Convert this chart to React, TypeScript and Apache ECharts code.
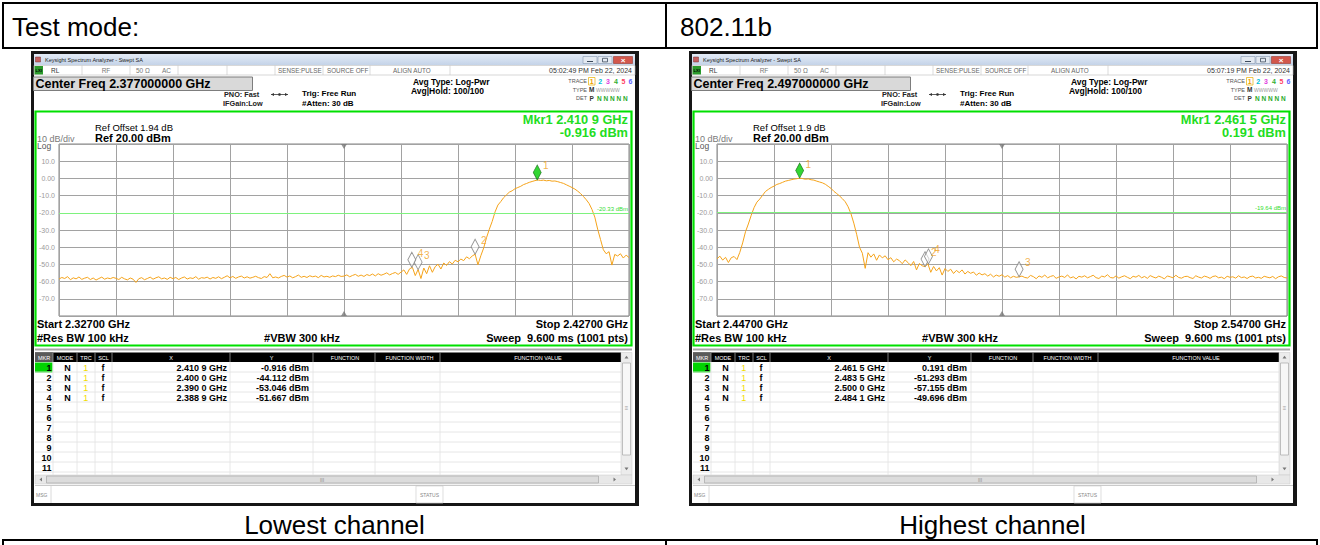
import React, { useEffect, useRef } from "react";
import * as echarts from "echarts";

const FONT = '"Liberation Sans", Arial, sans-serif';

// ---------------- data ----------------
const pageHeaderLabels = ["Test mode:", "802.11b"];
const panelCaptions = ["Lowest channel", "Highest channel"];

const yTickValues = [10, 0, -10, -20, -30, -40, -50, -60, -70];
const yTickLabels = ["10.0", "0.00", "-10.0", "-20.0", "-30.0", "-40.0", "-50.0", "-60.0", "-70.0"];
const refLevelDbm = 20;
const bottomLevelDbm = -80;
const dbPerDiv = 10;
const spanMHz = 100;
const traceStepMHz = 0.5;

const tableHeaders = ["MKR", "MODE", "TRC", "SCL", "X", "Y", "FUNCTION", "FUNCTION WIDTH", "FUNCTION VALUE"];
const tableRowCount = 11;

// Lowest channel
const lowStartGHz = 2.327;
const lowCenterGHz = 2.377;
const lowRefOffset = "1.94";
const lowDisplayLine = -20.33;
const lowTimestamp = "05:02:49 PM Feb 22, 2024";
const lowTrace = [
  -58.5, -57.6, -58.2, -57.1, -58.9, -57.8, -58.4, -57.3, -58.7, -58.0,
  -57.5, -58.8, -57.9, -59.1, -58.2, -57.4, -58.6, -57.9, -58.3, -57.6,
  -58.1, -58.8, -57.5, -58.4, -59.0, -57.9, -58.6, -60.5, -58.3, -57.7,
  -58.9, -58.2, -57.4, -58.6, -57.8, -57.2, -58.4, -57.9, -58.7, -57.5,
  -58.3, -57.6, -58.8, -57.9, -57.3, -58.5, -57.8, -58.2, -57.1, -58.6,
  -57.7, -58.0, -57.4, -58.5, -57.6, -58.1, -57.2, -58.3, -57.5, -56.6,
  -57.8, -57.0, -58.1, -57.3, -56.8, -57.9, -57.2, -58.0, -57.5, -56.9,
  -57.7, -58.2, -57.1, -57.6, -55.4, -57.8, -57.3, -57.9, -57.0, -56.4,
  -57.4, -56.7, -57.8, -57.1, -56.2, -57.5, -56.9, -57.6, -56.6, -57.2,
  -56.8, -57.7, -56.4, -57.3, -56.9, -57.5, -56.7, -57.1, -56.3, -57.0,
  -56.8, -56.1, -57.2, -56.4, -55.8, -56.9, -56.2, -57.0, -55.9, -56.5,
  -55.6, -56.7, -55.4, -56.3, -55.7, -54.9, -56.1, -55.3, -54.7, -55.8,
  -54.5, -53.2, -55.8, -52.6, -51.7, -56.5, -53.0, -58.2, -52.1, -55.4,
  -50.8, -54.6, -51.3, -49.9, -52.7, -49.2, -50.6, -48.4, -49.8, -47.6,
  -48.5, -46.9, -47.8, -45.6, -46.7, -45.1, -44.1, -50.2, -45.0, -40.5,
  -34.5, -29.5, -25.0, -19.5, -15.5, -13.5, -11.2, -9.6, -8.0, -7.2,
  -6.0, -5.3, -4.6, -3.6, -3.0, -2.3, -1.8, -1.3, -0.9, -1.2,
  -1.0, -1.4, -1.2, -1.6, -1.5, -1.9, -2.4, -2.9, -3.7, -4.5,
  -5.3, -6.2, -7.4, -8.8, -10.5, -12.4, -14.6, -18.0, -22.5, -29.5,
  -35.5, -41.5, -43.8, -42.6, -50.4, -44.2, -45.1, -43.8, -46.3, -44.6,
  -46.0,
];
const lowMarkerFreqGHz = [2.4109, 2.4, 2.39, 2.3889];
const lowMarkerDbm = [-0.916, -44.112, -53.046, -51.667];

// Highest channel
const highStartGHz = 2.447;
const highCenterGHz = 2.497;
const highRefOffset = "1.9";
const highDisplayLine = -19.64;
const highTimestamp = "05:07:19 PM Feb 22, 2024";
const highTrace = [
  -46.8, -45.2, -47.5, -45.9, -48.9, -46.1, -45.4, -47.2, -43.0, -37.5,
  -31.0, -26.5, -21.5, -17.0, -13.8, -12.0, -9.8, -7.6, -6.4, -5.3,
  -4.5, -3.5, -3.0, -2.3, -1.6, -1.2, -0.8, -0.4, -0.2, 0.19,
  -0.1, -0.5, -0.3, -0.8, -1.0, -1.6, -2.1, -2.6, -3.4, -4.6,
  -5.8, -7.5, -8.8, -10.2, -11.8, -13.6, -16.5, -20.5, -26.0, -32.5,
  -40.0, -43.5, -52.3, -43.2, -45.8, -43.9, -47.6, -44.5, -46.2, -45.0,
  -47.3, -46.1, -48.5, -46.9, -47.8, -49.6, -47.4, -48.9, -50.7, -48.3,
  -53.2, -49.5, -50.8, -51.3, -49.7, -54.6, -51.2, -53.8, -51.9, -56.2,
  -52.4, -54.1, -52.8, -55.3, -53.5, -54.8, -53.2, -55.6, -54.1, -55.2,
  -54.4, -56.3, -55.0, -56.1, -55.4, -56.8, -55.7, -57.3, -56.2, -56.9,
  -56.0, -57.4, -56.5, -57.8, -56.9, -57.5, -57.2, -56.8, -57.6, -57.9,
  -56.4, -57.1, -58.3, -56.7, -57.5, -56.2, -57.8, -57.0, -56.5, -58.1,
  -57.3, -56.8, -57.6, -56.1, -57.9, -57.2, -58.4, -56.9, -57.4, -56.6,
  -57.8, -57.1, -56.3, -57.7, -58.2, -56.8, -57.3, -56.0, -57.6, -57.9,
  -56.7, -58.0, -57.2, -56.6, -57.5, -58.3, -56.9, -57.4, -56.4, -57.8,
  -57.0, -58.1, -56.5, -57.3, -57.9, -56.8, -57.5, -58.4, -56.7, -57.2,
  -57.8, -56.3, -57.6, -58.0, -57.1, -56.9, -57.7, -58.2, -56.6, -57.4,
  -57.9, -56.8, -57.3, -58.1, -57.0, -56.7, -57.8, -57.4, -58.3, -56.9,
  -57.5, -57.2, -58.0, -56.6, -57.7, -57.3, -58.2, -57.1, -56.8, -57.9,
  -57.5, -58.1, -56.9, -57.4, -57.8, -57.0, -58.3, -57.2, -56.7, -57.6,
  -57.9,
];
const highMarkerFreqGHz = [2.4615, 2.4835, 2.5, 2.4841];
const highMarkerDbm = [0.191, -51.293, -57.155, -49.696];

const traceColors = ["#f0a000", "#00c0d8", "#e040e0", "#30b030", "#ff4060", "#6060ff"];

// ---------------- helpers ----------------
type Any = any;
const txt = (x: number, y: number, text: string, size: number, o: Any = {}) => ({
  type: "text", x, y, z: o.z ?? 20, silent: true,
  style: {
    text, fill: o.color ?? "#000",
    font: `${o.bold ? "bold " : ""}${size}px ${FONT}`,
    textAlign: o.align ?? "left", textVerticalAlign: "middle",
  },
});
const rect = (x: number, y: number, w: number, h: number, fill: Any, stroke?: string, lw?: number, z?: number) => ({
  type: "rect", z: z ?? -8, silent: true,
  shape: { x, y, width: w, height: h },
  style: { fill, stroke: stroke ?? "none", lineWidth: lw ?? 0 },
});
const line = (x1: number, y1: number, x2: number, y2: number, stroke: string, lw: number, z?: number) => ({
  type: "line", z: z ?? -7, silent: true, shape: { x1, y1, x2, y2 }, style: { stroke, lineWidth: lw },
});
const poly = (points: number[][], fill: string, z?: number) => ({
  type: "polygon", z: z ?? 20, silent: true, shape: { points }, style: { fill },
});

const fmtFreq = (f: number) => {
  const s = f.toFixed(4);
  return `${s.slice(0, 5)} ${s.slice(5)} GHz`;
};
const fmtDbm = (v: number) => `${v.toFixed(3)} dBm`;

type Panel = {
  dx: number; startGHz: number; centerGHz: number; refOffset: string; displayLine: number;
  timestamp: string; trace: number[]; mFreq: number[]; mDbm: number[];
};

const panels: Panel[] = [
  { dx: 0, startGHz: lowStartGHz, centerGHz: lowCenterGHz, refOffset: lowRefOffset, displayLine: lowDisplayLine,
    timestamp: lowTimestamp, trace: lowTrace, mFreq: lowMarkerFreqGHz, mDbm: lowMarkerDbm },
  { dx: 658, startGHz: highStartGHz, centerGHz: highCenterGHz, refOffset: highRefOffset, displayLine: highDisplayLine,
    timestamp: highTimestamp, trace: highTrace, mFreq: highMarkerFreqGHz, mDbm: highMarkerDbm },
];

const colBounds = [53, 77, 95, 112, 230, 313, 375, 440];
const headerCenters = [44, 65, 86, 103.5, 171, 271.5, 345, 409.5, 538];

function chrome(p: Panel): Any[] {
  const d = p.dx;
  const X = (x: number) => x + d;
  const els: Any[] = [];
  // window frame
  els.push(rect(X(31), 51, 608, 455, "#161616", undefined, 0, -10));
  els.push(rect(X(34), 54, 601, 449, "#ffffff", undefined, 0, -9));
  // title bar
  els.push(rect(X(34), 54, 601, 11, new echarts.graphic.LinearGradient(0, 0, 0, 1, [
    { offset: 0, color: "#e4ecf7" }, { offset: 1, color: "#c4d3e8" },
  ])));
  els.push(rect(X(35.5), 57, 5, 5, "#c46060", "#7a3030", 0.5));
  els.push(txt(X(45), 59.5, "Keysight Spectrum Analyzer - Swept SA", 5.5, { color: "#222" }));
  els.push(rect(X(583), 56.5, 14, 7, "#e3e9f1", "#8798b0", 0.6));
  els.push(line(X(587), 61.5, X(593), 61.5, "#3c4a5c", 1, 20));
  els.push(rect(X(598), 56.5, 14, 7, "#e3e9f1", "#8798b0", 0.6));
  els.push(rect(X(602.5), 58.3, 5, 3.6, "none", "#3c4a5c", 0.8, 20));
  els.push(rect(X(613.5), 56.5, 19, 7, "#d2574c", "#96392f", 0.6));
  els.push(txt(X(623), 60, "×", 8, { bold: true, color: "#fff", align: "center" }));
  // status row
  els.push(rect(X(34), 65.5, 601, 9.5, "#ffffff", "#bdbdbd", 0.6));
  els.push(rect(X(34.5), 66, 8.5, 8.5, "#2b9a2b"));
  els.push(txt(X(38.7), 70.3, "LXI", 4, { bold: true, color: "#000", align: "center" }));
  [82, 130, 178, 227, 275, 323, 370, 450].forEach((x) => els.push(line(X(x), 65.5, X(x), 75, "#c4c4c4", 0.6)));
  els.push(txt(X(51), 70.5, "RL", 6.5, { color: "#333" }));
  els.push(txt(X(106), 70.5, "RF", 6.5, { color: "#777", align: "center" }));
  els.push(txt(X(136), 70.5, "50 Ω", 6.5, { color: "#777" }));
  els.push(txt(X(162), 70.5, "AC", 6.5, { color: "#777" }));
  els.push(txt(X(278), 70.5, "SENSE:PULSE", 6.3, { color: "#666" }));
  els.push(txt(X(327), 70.5, "SOURCE OFF", 6.3, { color: "#666" }));
  els.push(txt(X(393), 70.5, "ALIGN AUTO", 6.3, { color: "#666" }));
  els.push(txt(X(632), 70.5, p.timestamp, 7, { color: "#333", align: "right" }));
  // center freq box
  els.push(rect(X(33.5), 77, 219, 13.5, "#d9d9d9", "#7d7d7d", 1));
  els.push(txt(X(35.5), 84, `Center Freq ${p.centerGHz.toFixed(9)} GHz`, 12.5, { bold: true }));
  // settings
  els.push(txt(X(224), 94.5, "PNO: Fast", 7.3, { bold: true, color: "#222" }));
  els.push(line(X(271), 94.5, X(288), 94.5, "#333", 0.8, 20));
  els.push({ type: "circle", z: 20, silent: true, shape: { cx: X(279.5), cy: 94.5, r: 1.3 }, style: { fill: "#333" } });
  els.push(poly([[X(271), 94.5], [X(274), 93], [X(274), 96]], "#333"));
  els.push(poly([[X(288), 94.5], [X(285), 93], [X(285), 96]], "#333"));
  els.push(txt(X(223), 103, "IFGain:Low", 7.3, { bold: true, color: "#222" }));
  els.push(txt(X(302), 93, "Trig: Free Run", 8, { bold: true }));
  els.push(txt(X(302), 103, "#Atten: 30 dB", 8, { bold: true }));
  els.push(txt(X(413), 81.5, "Avg Type: Log-Pwr", 8.5, { bold: true }));
  els.push(txt(X(411), 91, "Avg|Hold: 100/100", 8.5, { bold: true }));
  // trace info
  els.push(txt(X(587), 81, "TRACE", 5.5, { color: "#555", align: "right" }));
  els.push(rect(X(588.5), 77.5, 6.5, 7.5, "none", "#e8b000", 0.7, -6));
  const tx = [591.7, 600.2, 608, 616, 623.5, 630.5];
  tx.forEach((x, k) => els.push(txt(X(x), 81.3, String(k + 1), 7, { bold: true, color: traceColors[k], align: "center" })));
  els.push(txt(X(587), 89.5, "TYPE", 5.5, { color: "#555", align: "right" }));
  els.push(txt(X(589), 89.5, "M", 6.5, { bold: true, color: "#333" }));
  els.push(txt(X(596), 89.5, "WWWWW", 5, { color: "#999" }));
  els.push(txt(X(587), 98, "DET", 5.5, { color: "#555", align: "right" }));
  els.push(txt(X(589.5), 98, "P", 6.5, { bold: true, color: "#333" }));
  els.push(txt(X(597), 98, "N N N N N", 6.5, { bold: true, color: "#2aaa2a" }));
  // green frame + plot annotations
  els.push(rect(X(35.5), 111.5, 596, 234, "none", "#00e000", 2.2, 6));
  els.push(txt(X(95), 127, `Ref Offset ${p.refOffset} dB`, 9.5, { color: "#000" }));
  els.push(txt(X(37), 138.5, `${dbPerDiv} dB/div`, 9, { color: "#7a7a7a" }));
  els.push(txt(X(95), 137.5, `Ref ${refLevelDbm.toFixed(2)} dBm`, 11, { bold: true }));
  els.push(txt(X(37), 146, "Log", 8.5, { color: "#555" }));
  els.push(txt(X(628), 119, `Mkr1 ${fmtFreq(p.mFreq[0])}`, 12.8, { bold: true, color: "#22dd22", align: "right" }));
  els.push(txt(X(628), 132, fmtDbm(p.mDbm[0]), 12.8, { bold: true, color: "#22dd22", align: "right" }));
  const stopGHz = p.startGHz + spanMHz / 1000;
  els.push(txt(X(37), 324, `Start ${p.startGHz.toFixed(5)} GHz`, 11, { bold: true }));
  els.push(txt(X(37), 337.5, "#Res BW 100 kHz", 11, { bold: true }));
  els.push(txt(X(302), 337.5, "#VBW 300 kHz", 11, { bold: true, align: "center" }));
  els.push(txt(X(628), 324, `Stop ${stopGHz.toFixed(5)} GHz`, 11, { bold: true, align: "right" }));
  els.push(txt(X(628), 337.5, "Sweep  9.600 ms (1001 pts)", 11, { bold: true, align: "right" }));
  // separator
  els.push(rect(X(35), 348.5, 597, 2, "#a8a8a8"));
  // table header
  els.push(rect(X(35), 352.5, 586, 9.5, "#000"));
  els.push(rect(X(35), 352.5, 18, 9.5, "#5a5a5a"));
  colBounds.forEach((x) => els.push(line(X(x), 352.5, X(x), 362, "#9a9a9a", 0.8, -6)));
  tableHeaders.forEach((h, k) => els.push(txt(X(headerCenters[k]), 357.5, h, 5.5, { color: "#fff", align: "center" })));
  // table rows
  for (let r = 1; r <= tableRowCount; r++) {
    els.push(line(X(35), 362 + r * 10, X(621), 362 + r * 10, "#e0e0e0", 0.8));
  }
  colBounds.forEach((x) => els.push(line(X(x), 362, X(x), 475, "#e2e2e2", 0.8)));
  els.push(rect(X(35), 362.5, 17.5, 10, "#00d400"));
  for (let r = 1; r <= tableRowCount; r++) {
    const y = 367.5 + (r - 1) * 10;
    els.push(txt(X(51.5), y, String(r), 9, { bold: true, align: "right" }));
  }
  p.mFreq.forEach((f, k) => {
    const y = 367.5 + k * 10;
    els.push(txt(X(67.5), y, "N", 9, { bold: true, align: "center" }));
    els.push(txt(X(85.7), y, "1", 9, { color: "#f2dc00", align: "center" }));
    els.push(txt(X(103), y, "f", 9, { bold: true, align: "center" }));
    els.push(txt(X(227), y, fmtFreq(f), 9, { bold: true, align: "right" }));
    els.push(txt(X(309), y, fmtDbm(p.mDbm[k]), 9, { bold: true, align: "right" }));
  });
  // vertical scrollbar
  els.push(rect(X(621), 352.5, 11, 122.5, "#ececec", "#c8c8c8", 0.5));
  els.push(rect(X(622.5), 363, 8, 92, "#f7f7f7", "#a8a8a8", 0.7));
  els.push(poly([[X(624.5), 358.5], [X(628.5), 358.5], [X(626.5), 355.8]], "#777"));
  els.push(poly([[X(624.5), 467.5], [X(628.5), 467.5], [X(626.5), 470.2]], "#777"));
  els.push(txt(X(626.5), 408, "≡", 6, { color: "#999", align: "center" }));
  // horizontal scrollbar
  els.push(rect(X(35), 475, 597, 9, "#e8e8e8", "#c8c8c8", 0.5));
  els.push(rect(X(46.5), 476, 552, 7, "#dcdcdc", "#a8a8a8", 0.7));
  els.push(poly([[X(42), 477.5], [X(42), 481.5], [X(39.5), 479.5]], "#777"));
  els.push(poly([[X(613.5), 477.5], [X(613.5), 481.5], [X(616), 479.5]], "#777"));
  els.push(txt(X(322), 479.5, "III", 5, { color: "#888", align: "center" }));
  // message bar
  els.push(line(X(35), 485.5, X(635), 485.5, "#bdbdbd", 0.8));
  els.push(txt(X(36), 495, "MSG", 5, { color: "#888" }));
  els.push(line(X(51), 486, X(51), 503, "#d0d0d0", 0.8));
  els.push(rect(X(416), 486, 27, 17, "#fff", "#d0d0d0", 0.7));
  els.push(txt(X(429.5), 495, "STATUS", 5, { color: "#888", align: "center" }));
  return els;
}

function pageFrame(): Any[] {
  const els: Any[] = [];
  els.push(rect(3, 3, 1314, 45, "none", "#000", 2, 30));
  els.push(line(666, 3, 666, 48, "#000", 2, 30));
  els.push(txt(12, 27, pageHeaderLabels[0], 26, { z: 30 }));
  els.push(txt(680, 27, pageHeaderLabels[1], 26, { z: 30 }));
  els.push(txt(334.5, 525, panelCaptions[0], 26, { z: 30, align: "center" }));
  els.push(txt(992.5, 525, panelCaptions[1], 26, { z: 30, align: "center" }));
  els.push(line(2, 540, 1318, 540, "#000", 2.2, 30));
  els.push(line(3, 540, 3, 545, "#000", 2, 30));
  els.push(line(666, 540, 666, 545, "#000", 2, 30));
  els.push(line(1317, 540, 1317, 545, "#000", 2, 30));
  return els;
}

function buildOption(): Any {
  const labelMap: Record<string, string> = {};
  yTickValues.forEach((v, k) => (labelMap[String(v)] = yTickLabels[k]));
  const grids: Any[] = [];
  const xAxes: Any[] = [];
  const yAxes: Any[] = [];
  const series: Any[] = [];
  let graphics: Any[] = pageFrame();

  panels.forEach((p, idx) => {
    graphics = graphics.concat(chrome(p));
    grids.push({ left: 59 + p.dx, top: 144, width: 570, height: 172, show: true, borderColor: "#858585", borderWidth: 1, backgroundColor: "transparent" });
    xAxes.push({
      type: "value", gridIndex: idx, min: 0, max: spanMHz, interval: spanMHz / 10,
      axisLine: { show: false }, axisTick: { show: false }, axisLabel: { show: false },
      splitLine: { show: true, lineStyle: { color: "#a2a2a2", width: 1 } },
    });
    yAxes.push({
      type: "value", gridIndex: idx, min: bottomLevelDbm, max: refLevelDbm, interval: dbPerDiv,
      axisLine: { show: false }, axisTick: { show: false },
      axisLabel: { show: true, margin: 4, color: "#9a9a9a", fontSize: 7, fontFamily: FONT,
        formatter: (v: number) => labelMap[String(v)] ?? "" },
      splitLine: { show: true, lineStyle: { color: "#a2a2a2", width: 1 } },
    });
    series.push({
      type: "line", xAxisIndex: idx, yAxisIndex: idx, z: 3,
      data: p.trace.map((v, i) => [i * traceStepMHz, v]),
      showSymbol: false, symbol: "none",
      lineStyle: { color: "#f5a31a", width: 1 }, silent: true,
      markLine: {
        silent: true, symbol: "none",
        lineStyle: { color: "#7ef27e", width: 1.2, type: "solid" },
        label: { show: true, position: "insideEndTop", formatter: `${p.displayLine.toFixed(2)} dBm`,
          color: "#33dd33", fontSize: 6, fontFamily: FONT, distance: 1 },
        data: [{ yAxis: p.displayLine }],
      },
    });
    const centerOffset = (p.centerGHz - p.startGHz) * 1000;
    series.push({
      type: "scatter", xAxisIndex: idx, yAxisIndex: idx, z: 4, clip: false, silent: true,
      symbol: "triangle", symbolSize: [6, 5], itemStyle: { color: "#7a7a7a" },
      data: [
        { value: [centerOffset, refLevelDbm], symbolRotate: 180, symbolOffset: [0, 2.5] },
        { value: [centerOffset, bottomLevelDbm], symbolOffset: [0, -2.5] },
      ],
    });
    series.push({
      type: "scatter", xAxisIndex: idx, yAxisIndex: idx, z: 5, silent: true,
      symbol: "diamond", symbolSize: [8, 15], symbolOffset: [0, -7.5],
      label: { show: true, position: "right", distance: 1.5, offset: [0, -6.5], color: "#f0a020", fontSize: 10, fontFamily: FONT },
      data: p.mFreq.map((f, k) => ({
        value: [(f - p.startGHz) * 1000, p.mDbm[k]],
        itemStyle: k === 0
          ? { color: "#00cc00", borderColor: "#1a6e1a", borderWidth: 0.8 }
          : { color: "rgba(255,255,255,0.7)", borderColor: "#7a7a7a", borderWidth: 1 },
        label: { formatter: String(k + 1) },
      })),
    });
  });

  return {
    animation: false,
    backgroundColor: "#ffffff",
    textStyle: { fontFamily: FONT },
    grid: grids,
    xAxis: xAxes,
    yAxis: yAxes,
    series,
    graphic: { elements: graphics },
  };
}

export default function App() {
  const ref = useRef<HTMLDivElement>(null);
  useEffect(() => {
    if (!ref.current) return;
    const chart = echarts.init(ref.current, null, { renderer: "svg" });
    chart.setOption(buildOption());
    return () => chart.dispose();
  }, []);
  return (
    <div
      ref={ref}
      style={{ position: "absolute", left: 0, top: 0, width: 1320, height: 545, background: "#fff" }}
    />
  );
}
